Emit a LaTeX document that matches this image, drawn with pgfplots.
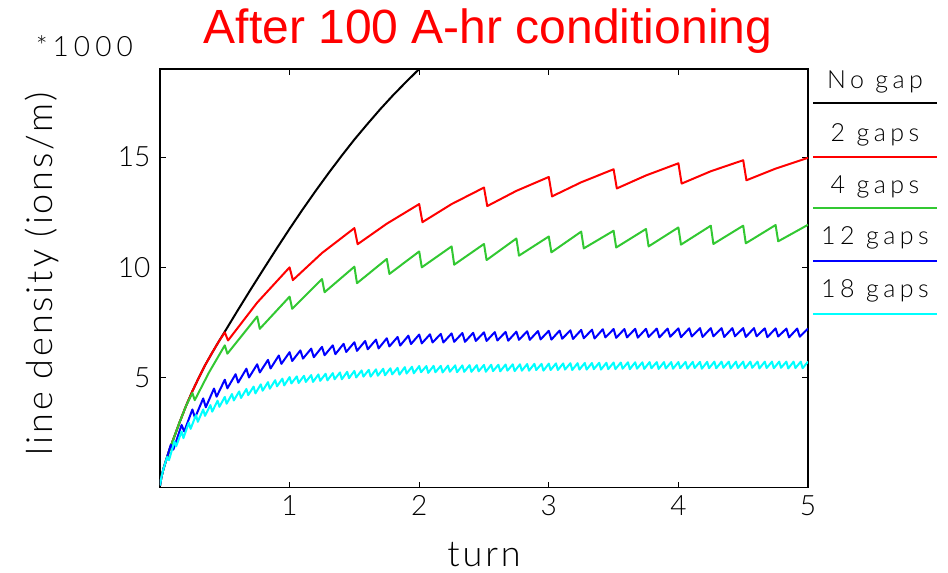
\documentclass[border=0pt]{standalone}
\usepackage{pgfplots}
\pgfplotsset{compat=1.18}
\usepackage{fontspec}
\setmainfont{Liberation Sans}
\newfontfamily\titlefont{Liberation Sans}
\IfFontExistsTF{Lato Light}
  {\newfontfamily\idl{Lato Light}}
  {\newfontfamily\idl{Lato}}
\IfFontExistsTF{Lato Light}
  {\newfontfamily\idlwide{Lato Light}[LetterSpace=8]}
  {\newfontfamily\idlwide{Lato}[LetterSpace=8]}
\IfFontExistsTF{Lato Light}
  {\newfontfamily\idlkey{Lato Light}[LetterSpace=18]}
  {\newfontfamily\idlkey{Lato}[LetterSpace=18]}

\definecolor{gapgreen}{RGB}{50,200,50}
\definecolor{gapcyan}{RGB}{0,255,255}
\definecolor{gapblue}{RGB}{0,0,255}
\definecolor{gapred}{RGB}{255,0,0}

\begin{document}
\begin{tikzpicture}
\path[use as bounding box] (-160pt,-85.3pt) rectangle (788pt,487.7pt);
\begin{axis}[
  scale only axis, width=648pt, height=418.7pt,
  at={(0pt,0pt)}, anchor=south west,
  xmin=0, xmax=5, ymin=0, ymax=19,
  xtick={1,2,3,4,5}, ytick={5,10,15},
  tick align=inside, major tick length=6pt,
  tick style={line width=1.1pt, black},
  axis line style={line width=1.4pt},
  /pgf/number format/assume math mode=true,
  ticklabel style={font=\idl\fontsize{28}{30}\selectfont},
  xticklabel style={yshift=-4pt},
  yticklabel style={xshift=-6pt},
  every axis plot/.append style={line width=2pt, line join=round},
]
% no gap: steady build-up
\addplot[black] table {
0 0.1
0.01 0.45
0.025 0.82
0.05 1.3
0.075 1.75
0.1 2.15
0.15 2.95
0.2 3.7
0.25 4.38
0.3 5.0
0.35 5.58
0.4 6.1
0.45 6.6
0.5 7.08
0.6 8.05
0.7 9.0
0.8 9.93
0.9 10.85
1.0 11.75
1.1 12.62
1.2 13.46
1.3 14.27
1.4 15.05
1.5 15.8
1.6 16.5
1.7 17.18
1.8 17.82
1.9 18.42
2.0 19.0
2.1 19.55
};
% 2 gaps
\addplot[gapred] table {
0 0.1
0.01 0.45
0.025 0.82
0.05 1.3
0.075 1.75
0.1 2.15
0.15 2.95
0.2 3.7
0.25 4.38
0.3 5.0
0.35 5.58
0.4 6.1
0.45 6.6
0.5 7.05
0.525 6.68
0.75 8.4
1.0 10.0
1.025 9.42
1.25 10.65
1.5 11.78
1.525 11.05
1.75 11.98
2.0 12.87
2.025 12.05
2.25 12.87
2.5 13.62
2.525 12.78
2.75 13.47
3.0 14.1
3.025 13.22
3.25 13.86
3.5 14.45
3.525 13.58
3.75 14.17
4.0 14.72
4.025 13.8
4.25 14.36
4.5 14.86
4.525 13.95
4.75 14.48
5.0 14.97
};
% 4 gaps
\addplot[gapgreen] table {
0 0.1
0.01 0.45
0.025 0.82
0.05 1.3
0.075 1.75
0.1 2.15
0.15 2.95
0.2 3.7
0.25 4.3
0.268 3.97
0.38 5.25
0.5 6.46
0.52 6.08
0.75 7.77
0.77 7.21
1.0 8.67
1.02 8.12
1.25 9.47
1.27 8.87
1.5 10.03
1.52 9.28
1.75 10.38
1.77 9.70
2.0 10.72
2.02 10.0
2.25 10.95
2.27 10.12
2.5 11.06
2.52 10.33
2.75 11.31
2.77 10.53
3.0 11.40
3.02 10.68
3.25 11.62
3.27 10.86
3.5 11.66
3.52 10.9
3.75 11.74
3.77 10.95
4.0 11.81
4.02 11.03
4.25 11.89
4.27 11.06
4.5 11.89
4.52 11.09
4.75 11.92
4.77 11.18
5.0 11.93
};
% 12 gaps
\addplot[gapblue] table {
0 0.1
0.01 0.45
0.025 0.82
0.05 1.3
0.0833 1.95
0.1033 1.73
0.1667 2.85
0.1867 2.55
0.2500 3.55
0.2700 3.17
0.3333 4.05
0.3533 3.65
0.4167 4.50
0.4367 4.13
0.5000 4.90
0.5200 4.51
0.5833 5.15
0.6033 4.77
0.6667 5.40
0.6867 5.00
0.7500 5.60
0.7700 5.23
0.8333 5.80
0.8533 5.41
0.9167 6.00
0.9367 5.62
1.0000 6.15
1.0200 5.75
1.0833 6.23
1.1033 5.86
1.1667 6.31
1.1867 5.92
1.2500 6.39
1.2700 6.01
1.3333 6.46
1.3533 6.06
1.4167 6.53
1.4367 6.16
1.5000 6.60
1.5200 6.21
1.5833 6.66
1.6033 6.28
1.6667 6.72
1.6867 6.32
1.7500 6.78
1.7700 6.41
1.8333 6.84
1.8533 6.45
1.9167 6.90
1.9367 6.52
2.0000 6.95
2.0200 6.55
2.0833 6.96
2.1033 6.59
2.1667 6.98
2.1867 6.59
2.2500 7.00
2.2700 6.62
2.3333 7.02
2.3533 6.62
2.4167 7.03
2.4367 6.66
2.5000 7.05
2.5200 6.66
2.5833 7.06
2.6033 6.68
2.6667 7.07
2.6867 6.67
2.7500 7.08
2.7700 6.71
2.8333 7.10
2.8533 6.71
2.9167 7.11
2.9367 6.73
3.0000 7.12
3.0200 6.72
3.0833 7.13
3.1033 6.76
3.1667 7.14
3.1867 6.75
3.2500 7.16
3.2700 6.78
3.3333 7.17
3.3533 6.77
3.4167 7.19
3.4367 6.82
3.5000 7.20
3.5200 6.80
3.5833 7.20
3.6033 6.82
3.6667 7.21
3.6867 6.81
3.7500 7.21
3.7700 6.84
3.8333 7.22
3.8533 6.82
3.9167 7.22
3.9367 6.85
4.0000 7.23
4.0200 6.83
4.0833 7.23
4.1033 6.86
4.1667 7.24
4.1867 6.84
4.2500 7.24
4.2700 6.87
4.3333 7.24
4.3533 6.84
4.4167 7.24
4.4367 6.87
4.5000 7.24
4.5200 6.84
4.5833 7.24
4.6033 6.87
4.6667 7.23
4.6867 6.83
4.7500 7.23
4.7700 6.86
4.8333 7.22
4.8533 6.82
4.9167 7.22
4.9367 6.85
5.0000 7.22
};
% 18 gaps
\addplot[gapcyan] table {
0 0.1
0.01 0.45
0.025 0.82
0.0556 1.40
0.0696 1.25
0.1111 2.10
0.1251 1.88
0.1667 2.55
0.1807 2.25
0.2222 2.95
0.2362 2.67
0.2778 3.30
0.2918 2.99
0.3333 3.55
0.3473 3.26
0.3889 3.75
0.4029 3.45
0.4444 3.95
0.4584 3.67
0.5000 4.12
0.5140 3.81
0.5556 4.25
0.5696 3.96
0.6111 4.37
0.6251 4.07
0.6667 4.48
0.6807 4.20
0.7222 4.59
0.7362 4.28
0.7778 4.69
0.7918 4.40
0.8333 4.79
0.8473 4.49
0.8889 4.88
0.9029 4.60
0.9444 4.95
0.9584 4.64
1.0000 5.02
1.0140 4.73
1.0556 5.05
1.0696 4.75
1.1111 5.08
1.1251 4.80
1.1667 5.11
1.1807 4.80
1.2222 5.14
1.2362 4.85
1.2778 5.17
1.2918 4.87
1.3333 5.20
1.3473 4.92
1.3889 5.23
1.4029 4.92
1.4444 5.26
1.4584 4.97
1.5000 5.30
1.5140 5.00
1.5556 5.32
1.5696 5.04
1.6111 5.35
1.6251 5.04
1.6667 5.37
1.6807 5.08
1.7222 5.40
1.7362 5.10
1.7778 5.42
1.7918 5.14
1.8333 5.44
1.8473 5.13
1.8889 5.47
1.9029 5.18
1.9444 5.49
1.9584 5.19
2.0000 5.52
2.0140 5.24
2.0556 5.52
2.0696 5.21
2.1111 5.53
2.1251 5.24
2.1667 5.53
2.1807 5.23
2.2222 5.54
2.2362 5.26
2.2778 5.55
2.2918 5.24
2.3333 5.55
2.3473 5.26
2.3889 5.56
2.4029 5.26
2.4444 5.56
2.4584 5.28
2.5000 5.57
2.5140 5.26
2.5556 5.58
2.5696 5.29
2.6111 5.58
2.6251 5.28
2.6667 5.59
2.6807 5.31
2.7222 5.60
2.7362 5.29
2.7778 5.60
2.7918 5.31
2.8333 5.61
2.8473 5.31
2.8889 5.62
2.9029 5.34
2.9444 5.62
2.9584 5.31
3.0000 5.63
3.0140 5.34
3.0556 5.64
3.0696 5.34
3.1111 5.64
3.1251 5.36
3.1667 5.65
3.1807 5.34
3.2222 5.65
3.2362 5.36
3.2778 5.66
3.2918 5.36
3.3333 5.66
3.3473 5.38
3.3889 5.67
3.4029 5.36
3.4444 5.67
3.4584 5.38
3.5000 5.68
3.5140 5.38
3.5556 5.68
3.5696 5.40
3.6111 5.69
3.6251 5.38
3.6667 5.69
3.6807 5.40
3.7222 5.69
3.7362 5.39
3.7778 5.70
3.7918 5.42
3.8333 5.70
3.8473 5.39
3.8889 5.70
3.9029 5.41
3.9444 5.70
3.9584 5.40
4.0000 5.70
4.0140 5.42
4.0556 5.71
4.0696 5.40
4.1111 5.71
4.1251 5.43
4.1667 5.71
4.1807 5.40
4.2222 5.71
4.2362 5.42
4.2778 5.72
4.2918 5.42
4.3333 5.72
4.3473 5.44
4.3889 5.72
4.4029 5.41
4.4444 5.72
4.4584 5.43
4.5000 5.72
4.5140 5.42
4.5556 5.72
4.5696 5.44
4.6111 5.72
4.6251 5.41
4.6667 5.72
4.6807 5.43
4.7222 5.72
4.7362 5.42
4.7778 5.72
4.7918 5.44
4.8333 5.72
4.8473 5.41
4.8889 5.72
4.9029 5.43
4.9444 5.72
4.9584 5.42
5.0000 5.72
};
\end{axis}

% title and axis captions
\node[anchor=base, text=red, font=\titlefont\fontsize{48}{54}\selectfont]
  at (328pt,443.7pt) {After 100 A-hr conditioning};
\node[rotate=90, font=\idlwide\fontsize{36}{40}\selectfont]
  at (-118pt,214pt) {line density (ions/m)};
\node[anchor=base, font=\idlwide\fontsize{36}{40}\selectfont]
  at (324pt,-79pt) {turn};
\node[anchor=base east, inner sep=0pt, font=\idlkey\fontsize{28}{30}\selectfont]
  at (-27pt,430.7pt) {*1000};

% key: label above a short line in the series colour
\begin{scope}[font=\idlkey\fontsize{25}{28}\selectfont]
  \node[anchor=base] at (715pt,399.4pt) {No gap};
  \draw[black, line width=2pt] (653.3pt,384.4pt) -- (776.7pt,384.4pt);
  \node[anchor=base] at (715pt,346pt) {2 gaps};
  \draw[gapred, line width=2pt] (653.3pt,331pt) -- (776.7pt,331pt);
  \node[anchor=base] at (715pt,294.4pt) {4 gaps};
  \draw[gapgreen, line width=2pt] (653.3pt,279.4pt) -- (776.7pt,279.4pt);
  \node[anchor=base] at (715pt,242.7pt) {12 gaps};
  \draw[gapblue, line width=2pt] (653.3pt,226.7pt) -- (776.7pt,226.7pt);
  \node[anchor=base] at (715pt,190.4pt) {18 gaps};
  \draw[gapcyan, line width=2pt] (653.3pt,173.7pt) -- (776.7pt,173.7pt);
\end{scope}
\end{tikzpicture}
\end{document}
